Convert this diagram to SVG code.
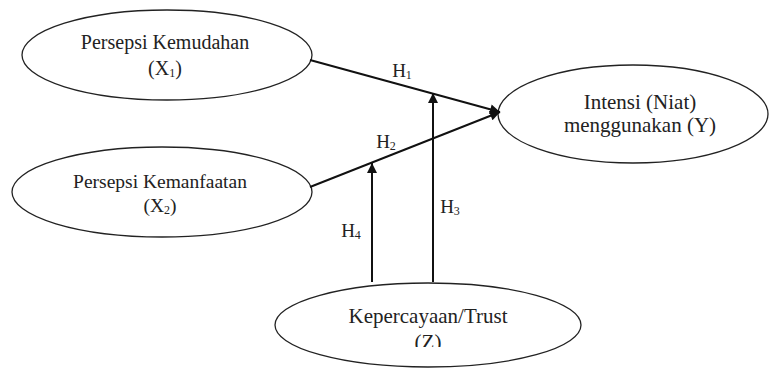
<svg xmlns="http://www.w3.org/2000/svg" width="771" height="369" viewBox="0 0 771 369">
<style>
.node ellipse{fill:#fff;stroke:#222;stroke-width:1.3}
text{font-family:"Liberation Serif","Times New Roman",serif;fill:#222;text-anchor:middle}
.conn line{stroke:#111;stroke-width:2}
.sub{font-size:12px}
</style>
<defs>
<marker id="ah" viewBox="0 0 10 10" refX="10" refY="5" markerWidth="11" markerHeight="10" markerUnits="userSpaceOnUse" orient="auto">
<path d="M0,0 L10,5 L0,10 z" fill="#111"/>
</marker>
<clipPath id="zclip"><rect x="0" y="0" width="771" height="347"/></clipPath>
</defs>
<rect width="771" height="369" fill="#fff"/>
<g id="x1" class="node">
<ellipse cx="167" cy="55" rx="145" ry="45"/>
<text x="165" y="49" font-size="20">Persepsi Kemudahan</text>
<text x="165" y="75" font-size="20">(X<tspan class="sub" dy="2">1</tspan><tspan dy="-2">)</tspan></text>
</g>
<g id="x2" class="node">
<ellipse cx="162" cy="192" rx="150" ry="45"/>
<text x="160" y="188" font-size="19.5">Persepsi Kemanfaatan</text>
<text x="160" y="212" font-size="19.5">(X<tspan class="sub" dy="2">2</tspan><tspan dy="-2">)</tspan></text>
</g>
<g id="y" class="node">
<ellipse cx="633" cy="114" rx="135" ry="49"/>
<text x="640" y="109" font-size="21">Intensi (Niat)</text>
<text x="640" y="132" font-size="21">menggunakan (Y)</text>
</g>
<g id="z" class="node">
<ellipse cx="428" cy="325" rx="153" ry="42"/>
<text x="428" y="323" font-size="21">Kepercayaan/Trust</text>
<text x="428" y="349" font-size="21" clip-path="url(#zclip)">(Z)</text>
</g>
<g id="connectors" class="conn">
<line x1="310" y1="60" x2="500" y2="112" marker-end="url(#ah)"/>
<line x1="310" y1="187" x2="500" y2="112" marker-end="url(#ah)"/>
<line x1="433" y1="282" x2="433" y2="93" marker-end="url(#ah)"/>
<line x1="372" y1="282" x2="372" y2="163" marker-end="url(#ah)"/>
</g>
<g id="labels" font-size="19">
<text x="402" y="77" font-size="19">H<tspan class="sub" dy="2">1</tspan></text>
<text x="386" y="148" font-size="19">H<tspan class="sub" dy="2">2</tspan></text>
<text x="450" y="213" font-size="19">H<tspan class="sub" dy="2">3</tspan></text>
<text x="351" y="237" font-size="19">H<tspan class="sub" dy="2">4</tspan></text>
</g>
</svg>
